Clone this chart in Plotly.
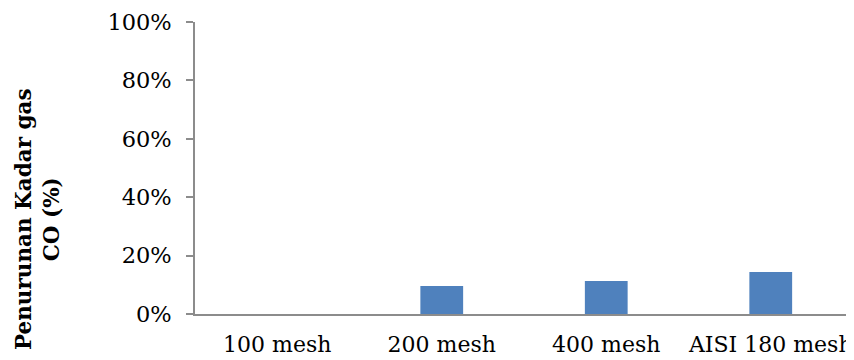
import plotly.graph_objects as go

# data
kategori = ["100 mesh", "200 mesh", "400 mesh", "AISI 180 mesh"]
penurunan = [0.0, 0.096, 0.113, 0.144]
tick_nilai = [0, 0.2, 0.4, 0.6, 0.8, 1.0]

serif = "DejaVu Serif"

fig = go.Figure()
fig.add_trace(go.Bar(x=kategori, y=penurunan, marker_color="#4F81BD",
                     marker_line_width=0))

# page body has an 8px margin, so the figure is made 8px smaller each way
fig.update_layout(
    width=846, height=352,
    margin=dict(l=187, r=1, t=14, b=46),
    paper_bgcolor="white", plot_bgcolor="white",
    bargap=0.74,
    showlegend=False,
    font=dict(family=serif, size=22.5, color="black"),
)
fig.update_yaxes(range=[0, 1], tickvals=tick_nilai, tickformat=".0%",
                 showgrid=False, zeroline=False,
                 showline=True, linecolor="#8c8c8c", linewidth=1.5,
                 ticks="outside", ticklen=7, tickcolor="#8c8c8c", tickwidth=1.5,
                 ticklabelstandoff=10)
fig.update_xaxes(showgrid=False, showline=True, linecolor="#8c8c8c", linewidth=1.5,
                 ticks="", ticklabelstandoff=10, tickfont_size=22)

fig.add_annotation(text="<b>Penurunan Kadar gas<br>CO (%)</b>",
                   xref="paper", yref="paper", x=0, y=0.325,
                   xshift=-158, xanchor="center", yanchor="middle",
                   textangle=-90, showarrow=False,
                   font=dict(family=serif, size=21.5, color="black"))

fig.write_html("out.html")
